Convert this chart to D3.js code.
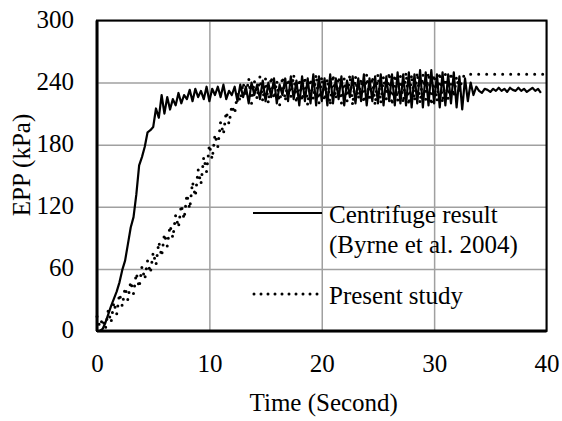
<!DOCTYPE html>
<html>
<head>
<meta charset="utf-8">
<script src="https://cdn.jsdelivr.net/npm/d3@7"></script>
<style>
  body { margin: 0; background: #fff; }
  svg { display: block; }
  svg text { font-family: "Liberation Serif", "Times New Roman", serif; }
</style>
</head>
<body>
<svg id="chart" width="562" height="421"></svg>
<script>
// axis ticks
const xTicks = [0, 10, 20, 30, 40];
const yTicks = [0, 60, 120, 180, 240, 300];

// both records are sampled every 0.25 s
const sampleStep = 0.25;

// Centrifuge result (Byrne et al. 2004), EPP in kPa
const centrifuge = [
  0, 0, 2, 8, 16, 24, 31, 38, 47, 59,
  68, 84, 100, 110, 132, 160, 168, 178, 192, 194,
  197, 215, 206, 228, 210, 226, 214, 224, 218, 230,
  220, 228, 224, 233, 222, 234, 226, 232, 224, 236,
  222, 234, 228, 236, 226, 238, 224, 232, 228, 236,
  222, 238, 226, 236, 220, 240, 228, 238, 224, 242,
  222, 240, 226, 244, 220, 238, 228, 244, 222, 246,
  224, 242, 218, 246, 222, 244, 220, 248, 218, 246,
  222, 244, 218, 248, 220, 244, 224, 246, 218, 242,
  226, 246, 220, 244, 222, 248, 218, 244, 222, 246,
  220, 248, 218, 246, 222, 248, 218, 250, 220, 248,
  218, 250, 216, 248, 220, 252, 216, 250, 218, 252,
  220, 248, 216, 250, 218, 248, 220, 250, 216, 246,
  214, 244, 222, 240, 228, 236, 232, 230, 234, 233,
  231, 234, 232, 235, 232, 234, 231, 235, 233, 232,
  235, 232, 234, 231, 233, 235, 232, 234, 230
];

// Present study, EPP in kPa
const present = [
  14, 4, 12, 2, 20, 8, 28, 16, 36, 24,
  42, 30, 48, 36, 56, 42, 62, 50, 68, 56,
  76, 64, 86, 72, 94, 82, 102, 90, 112, 100,
  122, 108, 132, 118, 144, 130, 156, 142, 168, 154,
  180, 166, 190, 178, 202, 190, 212, 200, 218, 210,
  230, 222, 240, 226, 244, 220, 242, 224, 246, 222,
  244, 220, 246, 224, 242, 218, 246, 222, 244, 226,
  248, 220, 244, 222, 246, 218, 244, 224, 248, 220,
  246, 222, 244, 218, 248, 224, 246, 220, 244, 222,
  248, 218, 246, 224, 244, 220, 248, 222, 246, 218,
  248, 220, 246, 224, 250, 218, 248, 222, 246, 220,
  250, 218, 248, 222, 250, 220, 248, 224, 250, 218,
  248, 222, 250, 220, 248, 224, 250, 226, 246, 232,
  244, 248, 248, 248, 248, 248, 248, 248, 248, 248,
  248, 248, 248, 248, 248, 248, 248, 248, 248, 248,
  248, 248, 248, 248, 248, 248, 248, 248, 248, 248,
  248
];

const legendLabels = [["Centrifuge result", "(Byrne et al. 2004)"], ["Present study"]];

const svg = d3.select("#chart");
const plotLeft = 97, plotRight = 546.5, plotTop = 20.5, plotBottom = 331;
const serif = '"Liberation Serif", "Times New Roman", serif';

const xScale = d3.scaleLinear().domain([0, 40]).range([plotLeft, plotRight]);
const yScale = d3.scaleLinear().domain([0, 300]).range([plotBottom, plotTop]);

// gridlines
svg.append("g")
  .attr("transform", `translate(0,${plotBottom})`)
  .call(d3.axisBottom(xScale).tickValues(xTicks).tickSize(-(plotBottom - plotTop)).tickFormat(""))
  .call(g => g.select(".domain").remove())
  .selectAll("line").attr("stroke", "#a0a0a0").attr("stroke-width", 1.5);

svg.append("g")
  .attr("transform", `translate(${plotLeft},0)`)
  .call(d3.axisLeft(yScale).tickValues(yTicks).tickSize(-(plotRight - plotLeft)).tickFormat(""))
  .call(g => g.select(".domain").remove())
  .selectAll("line").attr("stroke", "#a0a0a0").attr("stroke-width", 1.5);

// data lines
const line = d3.line()
  .x(function (d, i) { return xScale(i * sampleStep); })
  .y(function (d) { return yScale(d); });

svg.append("path")
  .attr("d", line(present))
  .attr("fill", "none")
  .attr("stroke", "#000")
  .attr("stroke-width", 3)
  .attr("stroke-linecap", "round")
  .attr("stroke-dasharray", "0,8");

svg.append("path")
  .attr("d", line(centrifuge))
  .attr("fill", "none")
  .attr("stroke", "#000")
  .attr("stroke-width", 2.2)
  .attr("stroke-linejoin", "round");

// plot frame
svg.append("rect")
  .attr("x", plotLeft).attr("y", plotTop)
  .attr("width", plotRight - plotLeft).attr("height", plotBottom - plotTop)
  .attr("fill", "none").attr("stroke", "#000").attr("stroke-width", 2);
svg.append("line")
  .attr("x1", plotLeft).attr("x2", plotLeft).attr("y1", plotTop).attr("y2", plotBottom)
  .attr("stroke", "#000").attr("stroke-width", 3);
svg.append("line")
  .attr("x1", plotLeft).attr("x2", plotRight).attr("y1", plotBottom).attr("y2", plotBottom)
  .attr("stroke", "#000").attr("stroke-width", 3);

// tick labels
const xAxis = svg.append("g")
  .attr("transform", `translate(0,${plotBottom})`)
  .call(d3.axisBottom(xScale).tickValues(xTicks).tickSize(0).tickPadding(23));
xAxis.attr("font-family", serif).attr("font-size", 25);
xAxis.select(".domain").remove();
xAxis.selectAll("text").attr("fill", "#000");

const yAxis = svg.append("g")
  .attr("transform", `translate(${plotLeft},0)`)
  .call(d3.axisLeft(yScale).tickValues(yTicks).tickSize(0).tickPadding(23));
yAxis.attr("font-family", serif).attr("font-size", 25);
yAxis.select(".domain").remove();
yAxis.selectAll("text").attr("fill", "#000").attr("dy", "0.26em");

// axis titles
svg.append("text")
  .attr("x", (plotLeft + plotRight) / 2 + 2).attr("y", 411)
  .attr("text-anchor", "middle").attr("font-size", 25)
  .text("Time (Second)");

svg.append("text")
  .attr("transform", "translate(30,165) rotate(-90)")
  .attr("text-anchor", "middle").attr("font-size", 25)
  .text("EPP (kPa)");

// legend
const legendY = [213, 294];
const legend = svg.append("g");
legend.append("line")
  .attr("x1", 253).attr("x2", 322).attr("y1", legendY[0]).attr("y2", legendY[0])
  .attr("stroke", "#000").attr("stroke-width", 2.2);
legend.append("line")
  .attr("x1", 254).attr("x2", 320).attr("y1", legendY[1]).attr("y2", legendY[1])
  .attr("stroke", "#000").attr("stroke-width", 3)
  .attr("stroke-linecap", "round").attr("stroke-dasharray", "0,7");

legendLabels.forEach(function (lines, k) {
  const t = legend.append("text")
    .attr("x", 329).attr("y", legendY[k] + 9.5)
    .attr("font-size", 25);
  lines.forEach(function (s, j) {
    t.append("tspan").attr("x", 329).attr("dy", j === 0 ? 0 : 30).text(s);
  });
});
</script>
</body>
</html>
